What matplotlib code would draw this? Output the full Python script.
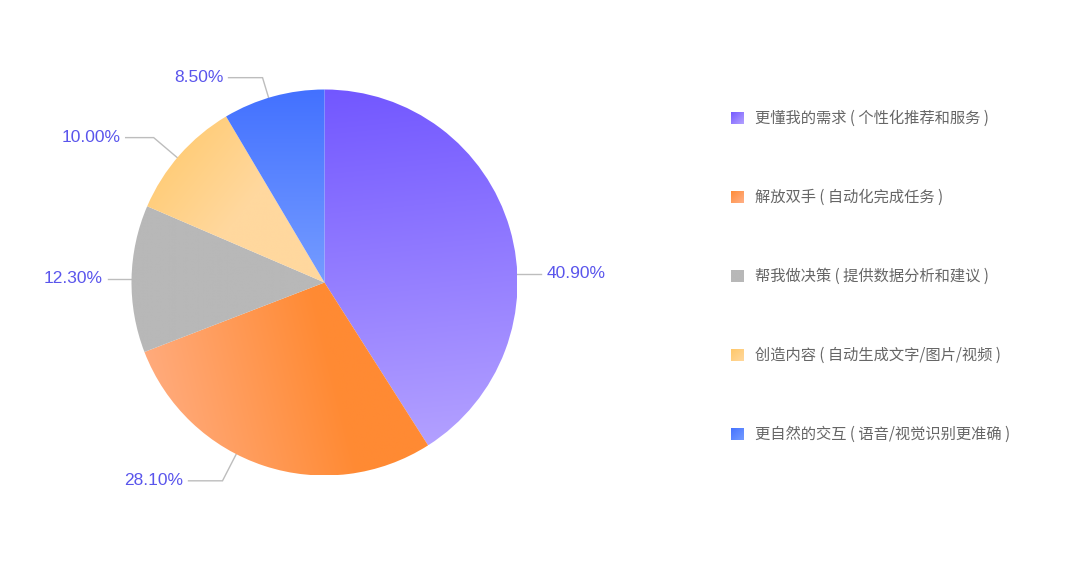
import numpy as np
import matplotlib
matplotlib.use('Agg')
import matplotlib.pyplot as plt
import matplotlib.patches as patches
from matplotlib.colors import to_rgb

plt.rcParams['font.family'] = ['Noto Sans CJK SC', 'DejaVu Sans']

# data
categories = ['更懂我的需求 ( 个性化推荐和服务 )',
              '解放双手 ( 自动化完成任务 )',
              '帮我做决策 ( 提供数据分析和建议 )',
              '创造内容 ( 自动生成文字/图片/视频 )',
              '更自然的交互 ( 语音/视觉识别更准确 )']
shares = [40.9, 28.1, 12.3, 10.0, 8.5]
pct_labels = ['40.90%', '28.10%', '12.30%', '10.00%', '8.50%']

# gradient styles: (start colour, end colour, direction in degrees, ramp end fraction)
grad_styles = [('#7257ff', '#b4a2ff', -80, 1.0),
               ('#ffb088', '#ff8a33', 20, 0.65),
               ('#b8b8b8', '#b8b8b8', 0, 1.0),
               ('#ffc766', '#ffd89e', -40, 0.55),
               ('#4371ff', '#759cff', -90, 1.0)]

# label line layout: anchor angle shift, radial leg, horizontal leg
label_shift = [-13.6, -9.0, 0.0, 1.0, 1.5]
radial_leg = [0, 30, 0, 31, 21]
horiz_leg = [24, 34, 24, 28, 34]

W, H = 1080, 568
CX, CY, R = 324.5, H - 282.5, 193
LABEL_COLOR = '#5a55ec'


def grad_fill(ax, patch, c0, c1, angle, end=1.0, zorder=2):
    """Fill a patch with a linear gradient clipped to it."""
    bb = patch.get_path().get_extents(patch.get_transform() - ax.transData)
    x0, y0, x1, y1 = bb.x0, bb.y0, bb.x1, bb.y1
    n = 200
    gx, gy = np.meshgrid(np.linspace(0, 1, n), np.linspace(0, 1, n))
    a = np.deg2rad(angle)
    dx, dy = np.cos(a) * (x1 - x0), np.sin(a) * (y1 - y0)
    norm = np.hypot(dx, dy) or 1
    proj = (gx * (x1 - x0) * dx + gy * (y1 - y0) * dy) / norm
    t = (proj - proj.min()) / max(proj.max() - proj.min(), 1e-9)
    t = np.clip(t / end, 0, 1)
    c0, c1 = np.array(to_rgb(c0)), np.array(to_rgb(c1))
    img = c0[None, None, :] * (1 - t[..., None]) + c1[None, None, :] * t[..., None]
    im = ax.imshow(img, extent=(x0, x1, y0, y1), origin='lower',
                   interpolation='bilinear', zorder=zorder, aspect='auto')
    im.set_clip_path(patch)


fig = plt.figure(figsize=(W / 100, H / 100), dpi=100)
ax = fig.add_axes([0, 0, 1, 1])

wedges, _ = ax.pie(shares, center=(CX, CY), radius=R, startangle=90,
                   counterclock=False, frame=True,
                   wedgeprops=dict(linewidth=0, facecolor='none'))
ax.set_xlim(0, W)
ax.set_ylim(0, H)
ax.set_aspect('auto')
ax.axis('off')

for w, (c0, c1, ang, end) in zip(wedges, grad_styles):
    grad_fill(ax, w, c0, c1, ang, end)

# labels with leader lines
for i, w in enumerate(wedges):
    mid = (w.theta1 + w.theta2) / 2 + label_shift[i]
    a = np.deg2rad(mid)
    sx, sy = CX + R * np.cos(a), CY + R * np.sin(a)
    ex, ey = CX + (R + radial_leg[i]) * np.cos(a), CY + (R + radial_leg[i]) * np.sin(a)
    side = 1 if np.cos(a) >= 0 else -1
    hx = ex + side * horiz_leg[i]
    ax.plot([sx, ex, hx], [sy, ey, ey], color='#bdbdbd', lw=1, zorder=1,
            solid_joinstyle='miter')
    ax.text(hx + side * 5, ey, pct_labels[i], color=LABEL_COLOR, fontsize=12.5,
            family=['Liberation Sans', 'DejaVu Sans'],
            ha='left' if side > 0 else 'right', va='center')

# legend
for i, cat in enumerate(categories):
    ly = H - (118 + 79 * i)
    sq = patches.Rectangle((731, ly - 6.5), 13, 13, linewidth=0, facecolor='none')
    ax.add_patch(sq)
    c0, c1, ang, end = grad_styles[i]
    if i == 1:
        c0, c1 = c1, c0
    grad_fill(ax, sq, c0, c1, -45 if i != 2 else 0)
    ax.text(755, ly, cat, color='#666666', fontsize=11, va='center', ha='left')

fig.savefig('out.png', dpi=100)
